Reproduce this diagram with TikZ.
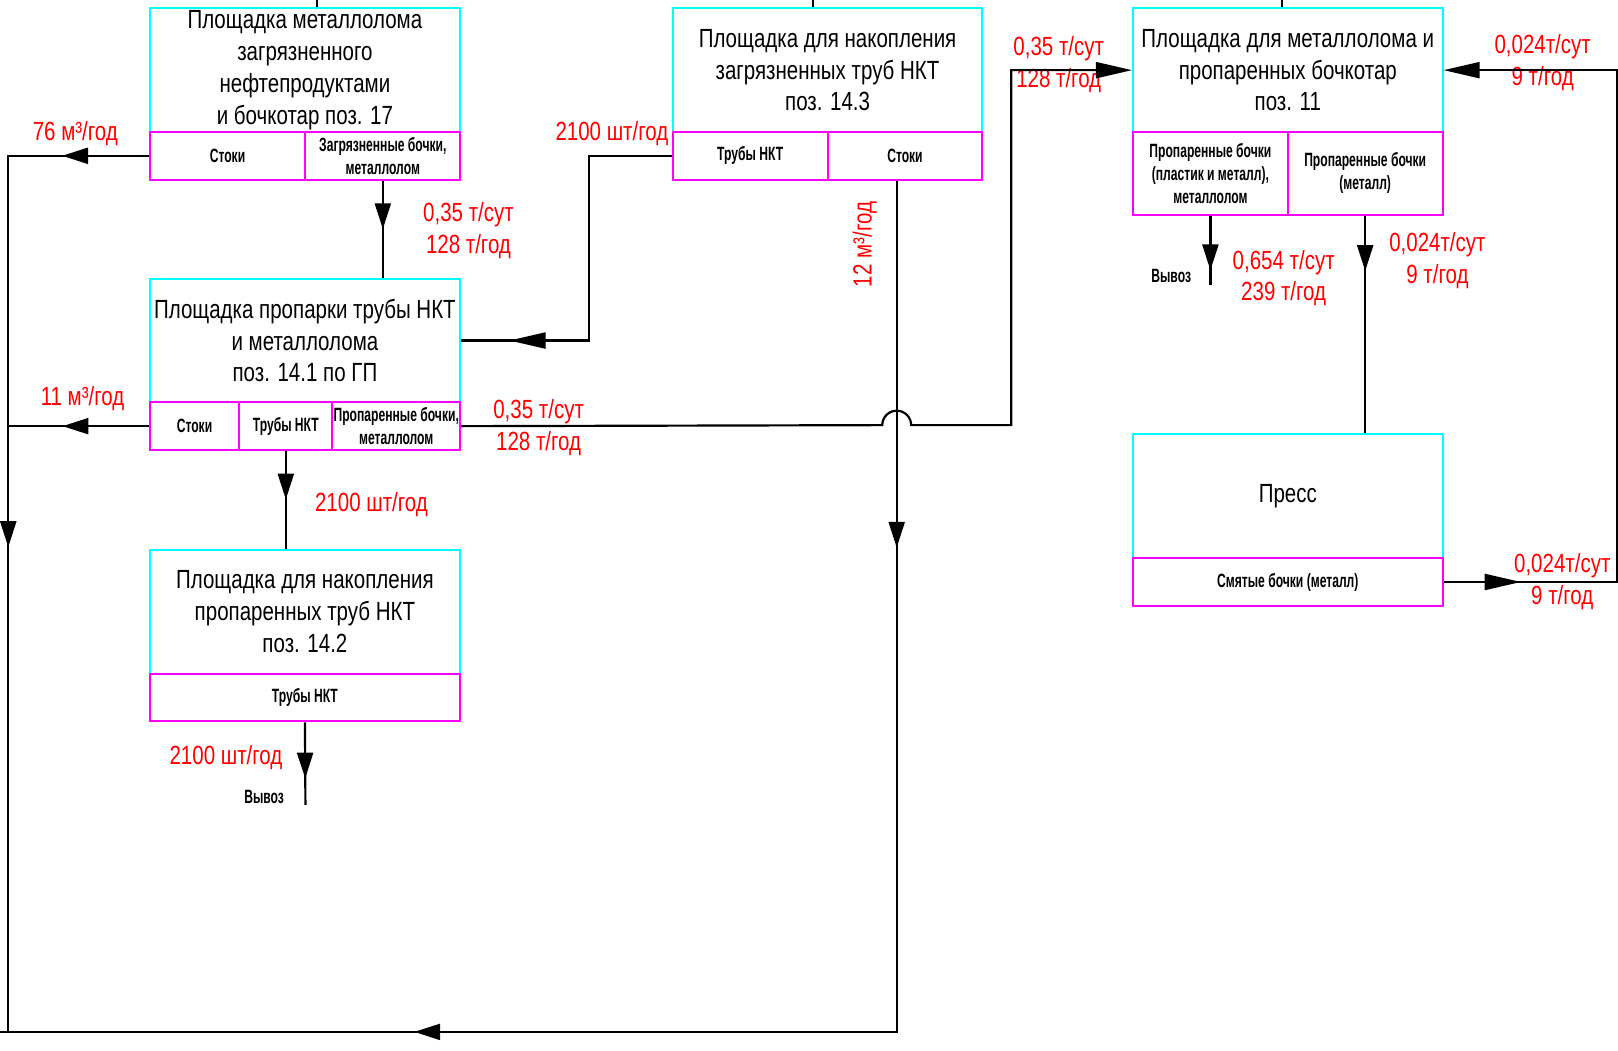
\documentclass[tikz,border=0pt]{standalone}
\usepackage{fontspec}
\setmainfont[FakeStretch=0.78]{Liberation Sans}
\newfontfamily\cellfont[FakeStretch=0.63]{Liberation Sans}
\usetikzlibrary{arrows.meta,decorations.markings}
\definecolor{areacyan}{RGB}{0,255,255}
\definecolor{cellmagenta}{RGB}{255,0,255}
\definecolor{qtyred}{RGB}{255,0,0}
\newcommand\mainsize{\fontsize{14.5}{17.6}\selectfont}
\newcommand\cellsize{\cellfont\bfseries\fontsize{10.6}{12.7}\selectfont}
\tikzset{>/.tip={Triangle[length=5mm,width=3.1mm]}, tipL/.tip={Triangle[length=7mm,width=3.1mm]},
  area/.style={draw=areacyan, line width=1.1pt, minimum width=60mm, minimum height=24mm, inner sep=0pt, align=center, font=\mainsize},
  cell/.style={draw=cellmagenta, line width=1.1pt, minimum width=30mm, minimum height=9.2mm, inner sep=0pt, align=center, font=\cellsize},
  flow/.style={line width=1.2pt},
  qty/.style={text=qtyred, inner sep=0pt, align=center, font=\mainsize},
  note/.style={inner sep=0pt, font=\cellsize},
  flowtip/.style={postaction={decorate,decoration={markings,mark=at position #1 with {\arrow{>}}}}},
  flowtipL/.style={postaction={decorate,decoration={markings,mark=at position #1 with {\arrow{tipL}}}}}}
\begin{document}
\begin{tikzpicture}[x=0.2mm,y=-0.2mm]
\useasboundingbox (0,0) rectangle (1568,1018);
% площадки
\node[area, minimum width=60.2mm] (p17) at (295.5,68) {Площадка металлолома\\загрязненного\\нефтепродуктами\\и бочкотар поз. 17};
\node[cell, minimum width=30.2mm] (p17a) at (220.5,151) {Стоки};
\node[cell] (p17b) at (371,151) {Загрязненные бочки,\\металлолом};
\node[area] (p143) at (802,68) {Площадка для накопления\\загрязненных труб НКТ\\поз. 14.3};
\node[cell] (p143a) at (727,151) {Трубы НКТ};
\node[cell] (p143b) at (877,151) {Стоки};
\node[area] (p11) at (1248,68) {Площадка для металлолома и\\пропаренных бочкотар\\поз. 11};
\node[cell, minimum height=16mm] (p11a) at (1173,168) {Пропаренные бочки\\(пластик и металл),\\металлолом};
\node[cell, minimum height=16mm] (p11b) at (1323,168) {Пропаренные бочки\\(металл)};
\node[area, minimum width=60.2mm] (p141) at (295.5,330) {Площадка пропарки трубы НКТ\\и металлолома\\поз. 14.1 по ГП};
\node[cell, minimum width=17.4mm] (p141a) at (188.5,413) {Стоки};
\node[cell, minimum width=18mm] (p141b) at (277,413) {Трубы НКТ};
\node[cell, minimum width=24.8mm] (p141c) at (384,413) {Пропаренные бочки,\\металлолом};
\node[area, minimum width=60.2mm] (p142) at (295.5,593) {Площадка для накопления\\пропаренных труб НКТ\\поз. 14.2};
\node[cell, minimum width=60.2mm] (p142a) at (295.5,676) {Трубы НКТ};
\node[area] (pr) at (1248,481) {Пресс};
\node[cell, minimum width=60mm] (pra) at (1248,564) {Смятые бочки (металл)};
% расходы
\node[qty] (q1) at (73,129) {76 м³/год};
\node[qty] (q2) at (454,223.5) {0,35 т/сут\\128 т/год};
\node[qty] (q3) at (593,129) {2100 шт/год};
\node[qty, rotate=90] (q4) at (838,237) {12 м³/год};
\node[qty] (q5) at (1026,62.5) {0,35 т/сут\\128 т/год};
\node[qty] (q6) at (1495,60.5) {0,024т/сут\\9 т/год};
\node[qty] (q7) at (80,386) {11 м³/год};
\node[qty] (q8) at (522,414.5) {0,35 т/сут\\128 т/год};
\node[qty] (q9) at (360,489) {2100 шт/год};
\node[qty] (q10) at (1244,269.5) {0,654 т/сут\\239 т/год};
\node[qty] (q11) at (1393,252.5) {0,024т/сут\\9 т/год};
\node[qty] (q12) at (1514,564) {0,024т/сут\\9 т/год};
\node[qty] (q13) at (219,734) {2100 шт/год};
\node[note] (v1) at (256,772) {Вывоз};
\node[note] (v2) at (1135,267) {Вывоз};
\coordinate (w0) at (0,1000);
\coordinate (w2) at (8,1000);
\coordinate (o142) at (296,780);
\coordinate (o11) at (1173,276);
\coordinate (jmp) at (855,412);
\coordinate (t17) at (307,0);
\coordinate (t143) at (788,0);
\coordinate (t11) at (1242,0);
% связи
\draw[flow] (t17) -- (t17 |- p17.north);
\draw[flow] (t143) -- (t143 |- p143.north);
\draw[flow] (t11) -- (t11 |- p11.north);
\draw[flow, flowtip=0.085, flowtip=0.523] (p17a.west) -| (w2);
\draw[flow, flowtip=0.613] (p141a.west) -- (p141a.west -| w2);
\draw[flow, flowtip=0.21, flowtip=0.763] ([xshift=-1.6mm]p143b.south) coordinate (s143) -- (s143 |- w2) -- (w0);
\draw[flow, flowtip=0.5] (p17b.south) -- (p17b.south |- p141.north);
\draw[flow, flowtipL=0.878] (p143a.west) -- ++(-80,0) |- (p141.east);
\draw[flow, -tipL] (p141c.east) -- (jmp) arc[start angle=180, end angle=360, radius=14] -- ++(97,0) |- (p11.west);
\draw[flow, flowtip=0.495] (p141b.south) -- (p141b.south |- p142.north);
\draw[flow, flowtip=0.68] (p142a.south) -- (o142);
\draw[flow, flowtip=0.79] (p11a.south) -- (o11);
\draw[flow, flowtip=0.254] (p11b.south) -- (p11b.south |- pr.north);
\draw[flow, flowtipL=0.09, -tipL] (pra.east) -- ++(168,0) |- (p11.east);
\end{tikzpicture}
\end{document}
